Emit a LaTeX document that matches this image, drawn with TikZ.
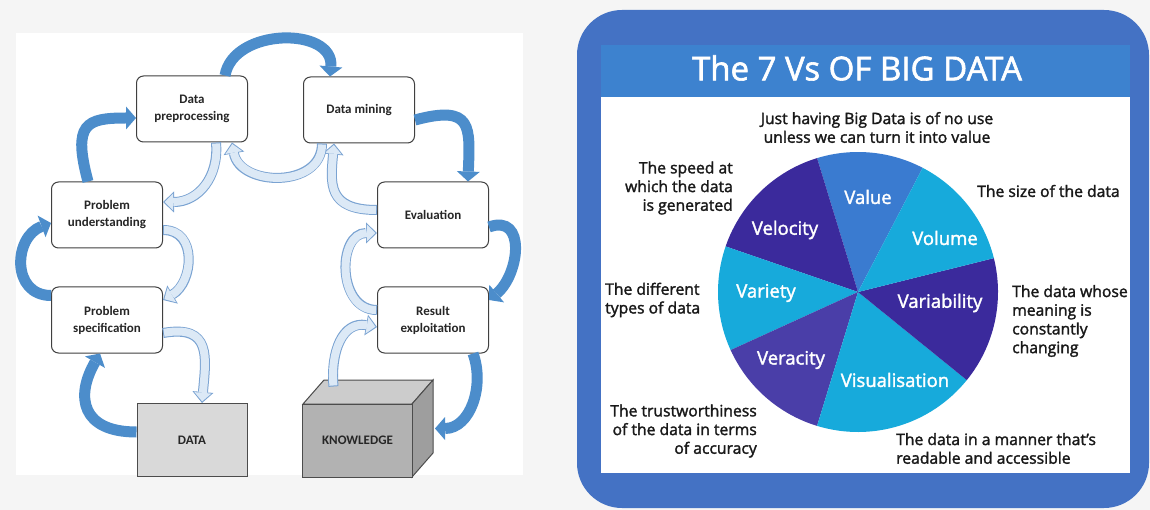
\documentclass[tikz,border=0pt]{standalone}
\usepackage{fontspec}
\setmainfont{Open Sans}[FakeBold=1.8]
\newfontfamily\boxfont{Carlito}
\usetikzlibrary{arrows.meta, calc, positioning}
\definecolor{pagebg}{HTML}{F5F5F5}
\definecolor{arrowblue}{HTML}{4C8DCB}
\definecolor{paleblue}{HTML}{DCE9F6}
\definecolor{edgeblue}{HTML}{7AA3D2}
\definecolor{framecol}{HTML}{4472C4}
\definecolor{headcol}{HTML}{3D82CF}
\definecolor{vvalue}{HTML}{3A7BD0}
\definecolor{vcyan}{HTML}{17AADB}
\definecolor{vdark}{HTML}{3B2A9C}
\definecolor{vmid}{HTML}{4A3EA8}
\tikzset{
  % fase del processo
  stage/.style={draw=black!75, line width=1pt, rounded corners=7pt, fill=white,
    minimum width=111pt, minimum height=66pt, align=center, inner sep=2pt,
    text=black!85, font=\boxfont\bfseries\fontsize{13}{17}\selectfont},
  % deposito (dati, conoscenza)
  store/.style={draw=black!70, line width=1pt, minimum width=110pt, minimum height=73pt,
    text=black!85, font=\boxfont\bfseries\fontsize{13}{16}\selectfont},
  % freccia piena del ciclo
  fwd/.style={line width=11pt, draw=arrowblue, -{Triangle[length=10pt, width=23pt, line width=0pt]}},
  % freccia cava di ritorno
  bwd/.style={preaction={draw=edgeblue, line width=10pt, shorten >=0pt, shorten <=0pt,
      -{Triangle[length=11pt, width=21pt, line width=0pt]}},
    draw=paleblue, line width=8pt, shorten >=1.6pt, shorten <=1pt,
    -{Triangle[length=8.6pt, width=17pt, line width=0pt]}},
  % nomi delle fette
  vlabel/.style={text=white, font=\fontsize{18.5}{20}\selectfont},
  % descrizioni intorno alla torta
  desc/.style={text=black!90, font=\fontsize{15.7}{18.7}\selectfont, inner sep=0pt},
}

\begin{document}
\begin{tikzpicture}[x=1pt, y=1pt]
  \useasboundingbox (0,0) rectangle (1150,-510);
  \fill[pagebg] (0,0) rectangle (1150,-510);
  \fill[white] (16,-33) rectangle (523,-475);

  \node[stage] (prep) at (192,-109) {Data\\preprocessing};
  \node[stage] (mine) at (359,-110) {Data mining};
  \node[stage] (und) at (107,-215) {Problem\\understanding};
  \node[stage] (eval) at (433,-215) {Evaluation};
  \node[stage] (spec) at (107,-320) {Problem\\specification};
  \node[stage] (res) at (433,-320) {Result\\exploitation};
  \node[store, fill=black!15] (data) at (192,-440) {DATA};
  \fill[black!20, draw=black!70, line width=1pt] (303,-404) -- ++(21,24) -- ++(109,0) -- ++(-21,-24) -- cycle;
  \fill[black!38, draw=black!70, line width=1pt] (412,-404) -- ++(21,24) -- ++(0,-73) -- ++(-21,-24) -- cycle;
  \node[store, fill=black!30] (know) at (357.5,-440.5) {KNOWLEDGE};

  \draw[fwd] ([yshift=8]data.west) .. controls +(180:55) and +(-120:50) .. ([xshift=-7]spec.south);
  \draw[fwd] ([yshift=-9]spec.north west) .. controls +(180:40) and +(-160:40) .. ([yshift=-8]und.west);
  \draw[fwd] ([xshift=-19]und.north) .. controls +(105:60) and +(180:50) .. ([yshift=-9]prep.west);
  \draw[fwd] ([xshift=33]prep.north) .. controls +(80:49) and +(85:50) .. ([xshift=-29]mine.north);
  \draw[fwd] ([yshift=-10]mine.east) .. controls +(15:60) and +(88:55) .. ([xshift=35]eval.north);
  \draw[fwd] ([yshift=-12]eval.east) .. controls +(20:40) and +(40:40) .. ([yshift=20]res.east);
  \draw[fwd] ([xshift=40]res.south) .. controls +(-70:35) and +(0:35) .. ([shift={(22,12)}]know.east);

  \draw[bwd] ([shift={(-24,17)}]know.north) .. controls +(95:35) and +(170:35) .. ([yshift=-7]res.west);
  \draw[bwd] ([yshift=10]res.west) .. controls +(180:40) and +(180:40) .. ([yshift=-18]eval.west);
  \draw[bwd] ([yshift=5]eval.west) .. controls +(180:50) and +(-95:40) .. ([xshift=-25]mine.south);
  \draw[bwd] ([xshift=-37]mine.south) .. controls +(-90:45) and +(-80:45) .. ([xshift=40]prep.south);
  \draw[bwd] ([xshift=24]prep.south) .. controls +(-85:35) and +(0:35) .. ([yshift=13]und.east);
  \draw[bwd] ([yshift=-15]und.east) .. controls +(0:35) and +(30:35) .. ([yshift=20]spec.east);
  \draw[bwd] ([yshift=-13]spec.east) .. controls +(10:50) and +(85:45) .. ([xshift=10]data.north);

  \fill[framecol, rounded corners=45pt] (577,-10) rectangle (1149,-508);
  \fill[headcol] (601,-45) rectangle (1130,-97);
  \fill[white] (601,-97) rectangle (1130,-473);
  \node[text=white, font=\fontsize{33}{36}\selectfont] (title) at (857,-68) {The 7 Vs OF BIG DATA};

  \coordinate (c) at (858,-292);
  \foreach \a/\b/\col in {62.5/107/vvalue, 107/161/vdark, 161/204.5/vcyan, 204.5/253/vmid,
      253/321/vcyan, 321/374/vdark, 374/422.5/vcyan}
    \fill[\col] (c) -- ++(\a:140) arc[start angle=\a, end angle=\b, radius=140] -- cycle;

  \node[vlabel] (value) at (868,-197) {Value};
  \node[vlabel] (volume) at (945,-238) {Volume};
  \node[vlabel] (velocity) at (785,-230) {Velocity};
  \node[vlabel] (variety) at (766,-293) {Variety};
  \node[vlabel] (variability) at (940,-303) {Variability};
  \node[vlabel] (veracity) at (791,-360) {Veracity};
  \node[vlabel] (visual) at (895,-380) {Visualisation};

  \node[desc, align=center] (dvalue) at (877,-127.5) {Just having Big Data is of no use\\unless we can turn it into value};
  \node[desc, align=right, anchor=east] (dvelocity) at (733,-188) {The speed at\\which the data\\is generated};
  \node[desc, anchor=west] (dvolume) at (977,-191) {The size of the data};
  \node[desc, align=left, anchor=west] (dvariety) at (605,-300) {The different\\types of data};
  \node[desc, align=left, anchor=west] (dvariab) at (1012,-321) {The data whose\\meaning is\\constantly\\changing};
  \node[desc, align=right, anchor=east] (dveracity) at (757,-431) {The trustworthiness\\of the data in terms\\of accuracy};
  \node[desc, align=left, anchor=west] (dvisual) at (896,-448.5) {The data in a manner that’s\\readable and accessible};
\end{tikzpicture}
\end{document}
